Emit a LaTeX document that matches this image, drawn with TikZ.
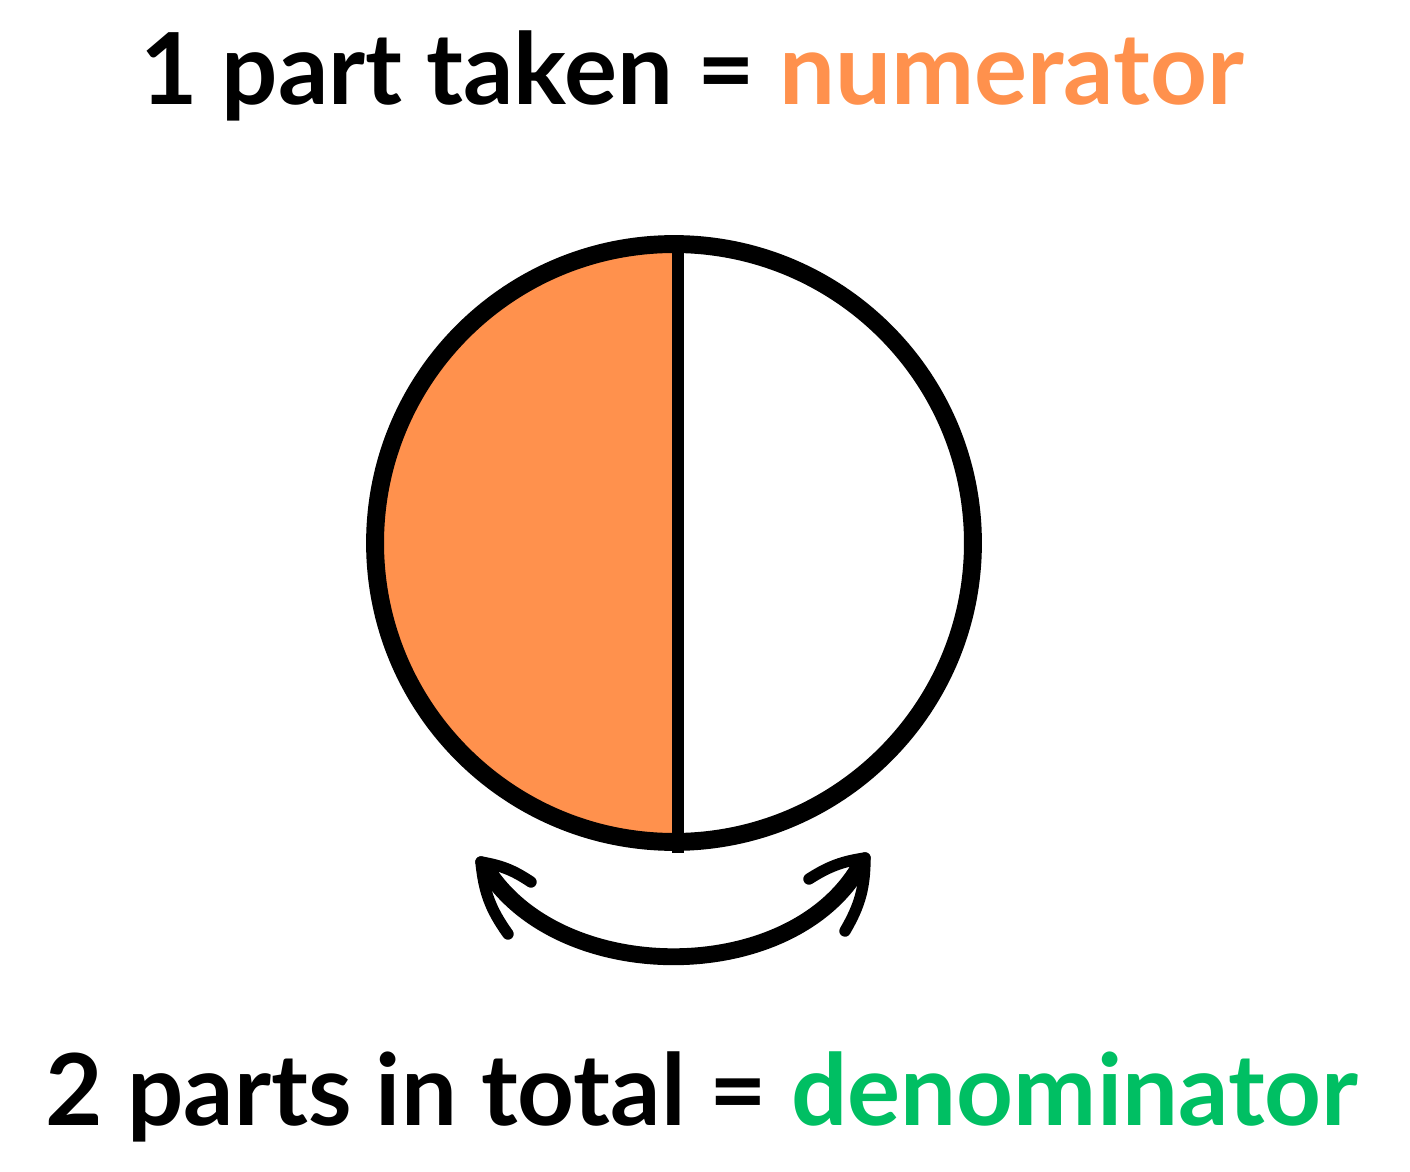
\documentclass[tikz,border=0pt]{standalone}
\usepackage{fontspec}
\setmainfont{Lato}
\usetikzlibrary{arrows.meta, positioning}
\definecolor{partorange}{RGB}{255,145,77}
\definecolor{partgreen}{RGB}{0,191,99}
\tikzset{
  headline/.style = {font=\fontsize{56.5}{64}\selectfont\bfseries, inner sep=0pt, anchor=base},
  rim/.style      = {circle, draw=black, line width=10.2pt, minimum size=11.96cm, inner sep=0pt},
  divider/.style  = {draw=black, line width=6.8pt},
  swing/.style    = {draw=black, line width=9.6pt, line cap=round},
  barb/.style     = {draw=black, line width=6.5pt, line cap=round, line join=round},
}

\begin{document}
\begin{tikzpicture}[x=0.02cm, y=0.02cm]
  \useasboundingbox (0,0) rectangle (1410,1171);
  % titles
  \node[headline] (taken) at (692,1066) {1 part taken = \textcolor{partorange}{numerator}};
  \node[headline] (total) at (702,46) {2 parts in total = \textcolor{partgreen}{denominator}};
  % half of the circle
  \fill[partorange] (678,927) arc[start angle=90, end angle=270, radius=299] -- cycle;
  \node[rim] (disc) at (674,628) {};
  \draw[divider] (678,927) -- (678,318);
  % the two-way arrow under the circle
  \coordinate (ltip) at (481,309);
  \coordinate (rtip) at (865,313);
  \coordinate (lend) at (489,298);
  \coordinate (rend) at (857,300);
  \draw[swing] (lend) .. controls (565,186) and (785,186) .. (rend);
  \draw[barb] (ltip) to[bend left=12] (531,289);
  \draw[barb] (ltip) to[bend right=15] (508,237);
  \draw[barb] (rtip) to[bend right=12] (809,292);
  \draw[barb] (rtip) to[bend left=15] (845,240);
\end{tikzpicture}
\end{document}
